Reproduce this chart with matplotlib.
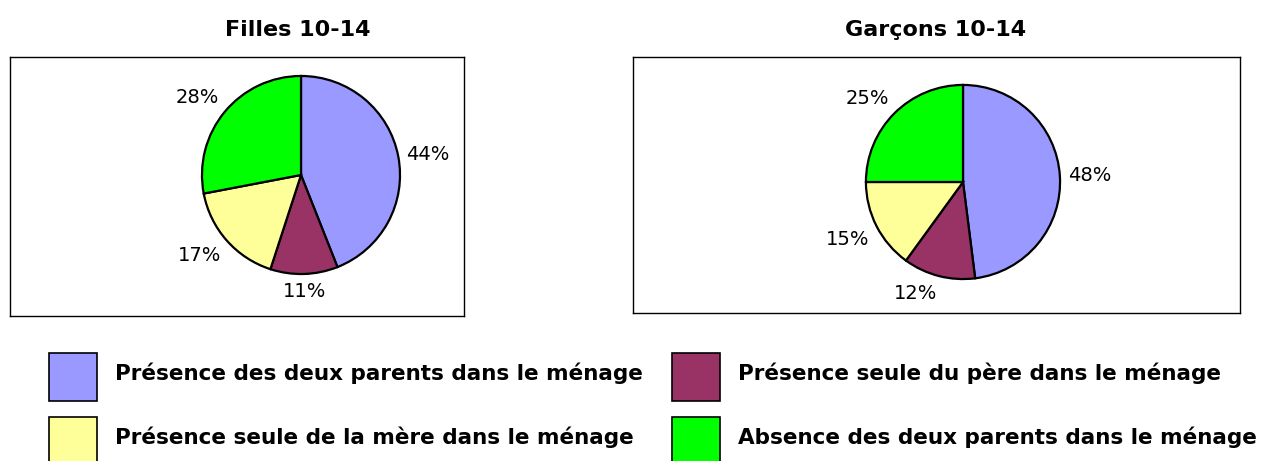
import matplotlib.pyplot as plt
from matplotlib.patches import Rectangle

# Data
categories = ['Présence des deux parents dans le ménage',
              'Présence seule du père dans le ménage',
              'Présence seule de la mère dans le ménage',
              'Absence des deux parents dans le ménage']
colors = ['#9999FF', '#993366', '#FFFF99', '#00FF00']
titles = ['Filles 10-14', 'Garçons 10-14']
filles = [44, 11, 17, 28]
garcons = [48, 12, 15, 25]

W, H = 1268, 461
fig = plt.figure(figsize=(W / 100, H / 100), dpi=100)


def px_box(x0, y0, x1, y1):
    # pixel box (top-left origin) -> figure fraction
    return [x0 / W, 1 - y1 / H, (x1 - x0) / W, (y1 - y0) / H]


def draw_panel(box, center, r, values, title, title_x):
    frame = fig.add_axes(px_box(*box))
    frame.set_xticks([])
    frame.set_yticks([])
    for s in frame.spines.values():
        s.set_linewidth(1.0)

    cx, cy = center
    ax = fig.add_axes(px_box(cx - r, cy - r, cx + r, cy + r))
    wedges, texts = ax.pie(values, colors=colors, startangle=90, counterclock=False,
                           labels=['{}%'.format(v) for v in values], labeldistance=1.08,
                           wedgeprops={'edgecolor': 'black', 'linewidth': 1.6},
                           textprops={'fontsize': 14})
    # anchor each label by its corner nearest to the pie, like Excel does
    for t in texts:
        x, y = t.get_position()
        if x > 0.2:
            t.set_ha('left')
        elif x < -0.2:
            t.set_ha('right')
        else:
            t.set_ha('center')
        if y > 0.3:
            t.set_va('bottom')
        elif y < -0.3:
            t.set_va('top')
        else:
            t.set_va('center')
        t.set_clip_on(False)
    ax.set_xlim(-1.02, 1.02)
    ax.set_ylim(-1.02, 1.02)
    ax.set_aspect('auto')
    ax.axis('off')

    fig.text(title_x / W, 1 - 30 / H, title, ha='center', va='center',
             fontsize=16, fontweight='bold')


draw_panel((10, 57, 464, 316), (301, 175), 101, filles, titles[0], 298)
draw_panel((633, 57, 1240, 313), (963, 182), 99, garcons, titles[1], 936)

# Legend, 2 x 2 grid
col_x = [49, 672]
row_y = [353, 417]
for i, (lab, c) in enumerate(zip(categories, colors)):
    x = col_x[i % 2]
    y = row_y[i // 2]
    fig.add_artist(Rectangle((x / W, 1 - (y + 48) / H), 48 / W, 48 / H,
                             transform=fig.transFigure, facecolor=c,
                             edgecolor='black', linewidth=1.2))
    fig.text((x + 66) / W, 1 - (y + 20) / H, lab, ha='left', va='center',
             fontsize=15.5, fontweight='bold')

fig.savefig('out.png', dpi=100)
